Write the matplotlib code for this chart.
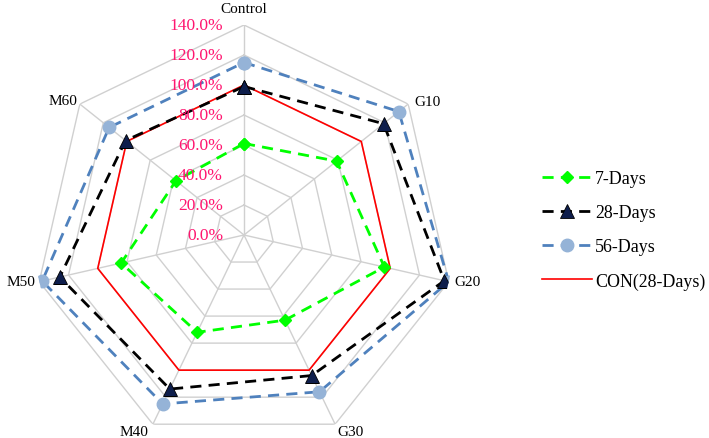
import numpy as np
import matplotlib
matplotlib.use("Agg")
import matplotlib.pyplot as plt
from matplotlib.transforms import offset_copy

plt.rcParams['font.family'] = ['Liberation Serif', 'DejaVu Serif']

# data (percent of control)
categories = ["Control", "G10", "G20", "G30", "M40", "M50", "M60"]
days7 = [61, 79, 96, 63, 72, 84, 58]
days28 = [99, 119, 137, 104, 114, 126, 101]
days56 = [115, 132, 140, 116, 125, 138, 115]
con28 = [100, 100, 100, 100, 100, 100, 100]
levels = [0, 20, 40, 60, 80, 100, 120, 140]
level_labels = ["0.0%", "20.0%", "40.0%", "60.0%", "80.0%", "100.0%", "120.0%", "140.0%"]

n = len(categories)
theta = np.linspace(0, 2 * np.pi, n, endpoint=False)
theta_c = np.append(theta, theta[0])

def closed(v):
    return np.append(v, v[0])

W, H = 709, 439
fig = plt.figure(figsize=(W / 100, H / 100), dpi=100)
cx, cy, R = 244, 236, 210
ax = fig.add_axes([(cx - R) / W, (H - cy - R) / H, 2 * R / W, 2 * R / H], projection='polar')
ax.set_theta_zero_location('N')
ax.set_theta_direction(-1)
ax.set_ylim(0, 140)
ax.grid(False)
ax.spines['polar'].set_visible(False)
ax.set_xticks([])
ax.set_yticks([])
ax.patch.set_alpha(0)

# polygon grid + spokes
grid_col = '#D0D0D0'
for lv in levels[1:]:
    ax.plot(theta_c, [lv] * (n + 1), color=grid_col, lw=1, zorder=1)
for t in theta:
    ax.plot([t, t], [0, 140], color=grid_col, lw=1, zorder=1)

# series
lcon, = ax.plot(theta_c, closed(con28), color='#FF0000', lw=1.2, zorder=3, label='CON(28-Days)')
l7, = ax.plot(theta_c, closed(days7), color='#00FF00', lw=2, ls=(0, (4, 2.6)),
              marker='D', ms=6.5, mfc='#00FF00', mec='#00FF00', zorder=4, label='7-Days')
l28, = ax.plot(theta_c, closed(days28), color='#000000', lw=2, ls=(0, (4, 2.6)),
               marker='^', ms=9.5, mfc='#0E1E4C', mec='#000000', mew=0.6, zorder=5, label='28-Days')
l56, = ax.plot(theta_c, closed(days56), color='#4F81BD', lw=2, ls=(0, (4, 2.6)),
               marker='o', ms=9, mfc='#95B3D7', mec='#95B3D7', zorder=4, label='56-Days')

# radial tick labels
tr = offset_copy(ax.transData, fig=fig, x=-21, y=0, units='dots')
for lv, lab in zip(levels, level_labels):
    ax.text(0, lv, lab, transform=tr, ha='right', va='center',
            color='#FF1670', fontsize=12.5, zorder=6)

# category labels
offs = [(0, 16, 'center', 'center'), (6, 3, 'left', 'center'), (6, 0, 'left', 'center'),
        (2, -1, 'left', 'top'), (-4, -1, 'right', 'top'), (-4, 0, 'right', 'center'),
        (-2, 4, 'right', 'center')]
for t, name, (dx, dy, ha, va) in zip(theta, categories, offs):
    ax.annotate(name, xy=(t, 140), xytext=(dx * 0.72, dy * 0.72), textcoords='offset points',
                ha=ha, va=va, fontsize=11, color='black', annotation_clip=False)

fig.legend([l7, l28, l56, lcon], ['7-Days', '28-Days', '56-Days', 'CON(28-Days)'],
           loc='center left', bbox_to_anchor=(533 / W, 1 - 231 / H), frameon=False,
           fontsize=12.9, handlelength=2.8, handletextpad=0.15, labelspacing=0.95,
           borderpad=0)

fig.savefig('out.png', dpi=100)
